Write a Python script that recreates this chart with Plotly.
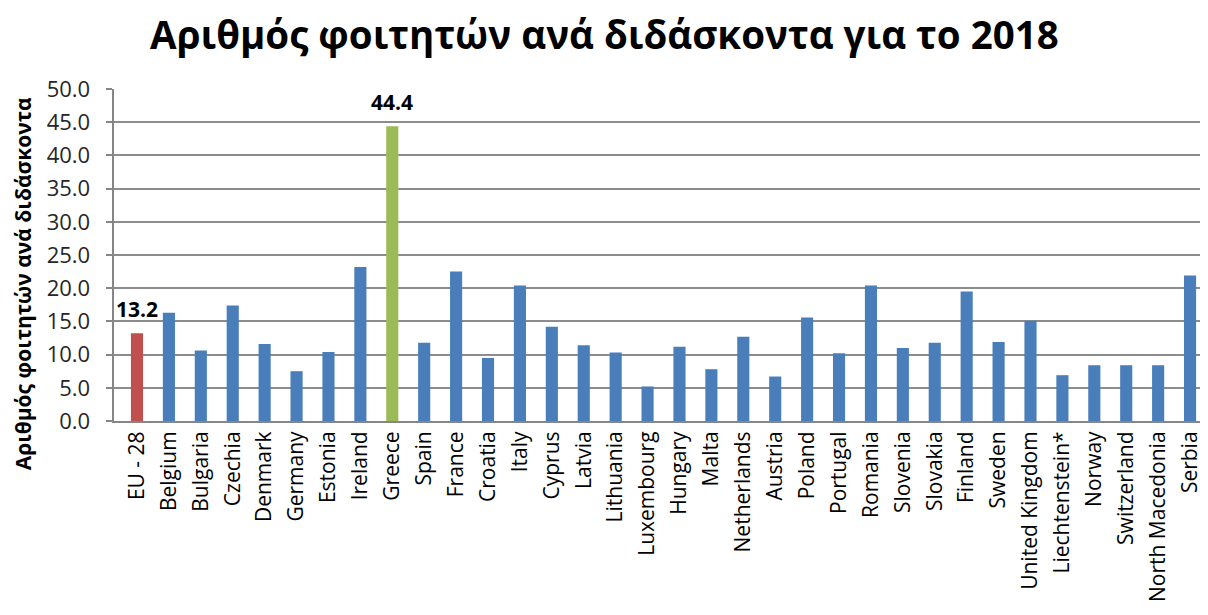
import plotly.graph_objects as go

categories = ["EU - 28", "Belgium", "Bulgaria", "Czechia", "Denmark", "Germany", "Estonia",
              "Ireland", "Greece", "Spain", "France", "Croatia", "Italy", "Cyprus", "Latvia",
              "Lithuania", "Luxembourg", "Hungary", "Malta", "Netherlands", "Austria", "Poland",
              "Portugal", "Romania", "Slovenia", "Slovakia", "Finland", "Sweden",
              "United Kingdom", "Liechtenstein*", "Norway", "Switzerland", "North Macedonia",
              "Serbia"]
values = [13.2, 16.3, 10.6, 17.4, 11.6, 7.5, 10.4, 23.2, 44.4, 11.8, 22.5, 9.5, 20.4, 14.2,
          11.4, 10.3, 5.2, 11.2, 7.8, 12.7, 6.7, 15.6, 10.2, 20.4, 11.0, 11.8, 19.5, 11.9,
          15.1, 6.9, 8.4, 8.4, 8.4, 21.9]
labelled = ["EU - 28", "Greece"]
tick_values = [0, 5, 10, 15, 20, 25, 30, 35, 40, 45, 50]
tick_labels = [f"{v:.1f}" for v in tick_values]

BLUE = "#4A7EBB"
RED = "#C0504D"
GREEN = "#9BBB59"
colors = [RED if c == "EU - 28" else GREEN if c == "Greece" else BLUE for c in categories]

FONT = "Open Sans"
PAD = "\u00a0\u00a0"  # spacing between tick labels and axis

fig = go.Figure()
fig.add_trace(go.Bar(x=categories, y=values, marker=dict(color=colors, line=dict(width=0)),
                     hoverinfo="x+y"))

for c, v in zip(categories, values):
    if c in labelled:
        fig.add_annotation(x=c, y=v, text=f"<b>{v:.1f}</b>", showarrow=False,
                           yanchor="bottom", yshift=8,
                           font=dict(family=FONT, size=21, color="black"))

fig.add_annotation(xref="paper", yref="paper", x=-0.083, y=0.413, xanchor="center",
                   yanchor="middle", textangle=-90, showarrow=False,
                   text="<b>Αριθμός φοιτητών ανά διδάσκοντα</b>",
                   font=dict(family=FONT, size=21, color="black"))

fig.update_layout(
    width=1200, height=607,
    margin=dict(l=106, r=2, t=81, b=194),
    paper_bgcolor="white", plot_bgcolor="white",
    bargap=0.62,
    showlegend=False,
    title=dict(text="<b>Αριθμός φοιτητών ανά διδάσκοντα για το 2018</b>",
               x=0.497, xref="container", xanchor="center", y=0.955, yanchor="middle",
               font=dict(family=FONT, size=38.5, color="black")),
    font=dict(family=FONT, color="black"),
    xaxis=dict(tickangle=-90, tickfont=dict(size=21, family=FONT, color="black"),
               showline=True, linecolor="#868686", linewidth=2, ticks="",
               showgrid=False, automargin=False),
    yaxis=dict(range=[0, 50], tickvals=tick_values,
               ticktext=[t + PAD for t in tick_labels],
               tickfont=dict(size=22, family=FONT, color="#262626"),
               showgrid=True, gridcolor="#8C8C8C", gridwidth=2,
               showline=True, linecolor="#868686", linewidth=2,
               ticks="outside", ticklen=6, tickcolor="#868686", tickwidth=2,
               automargin=False, zeroline=False),
)

fig.write_html("out.html")
